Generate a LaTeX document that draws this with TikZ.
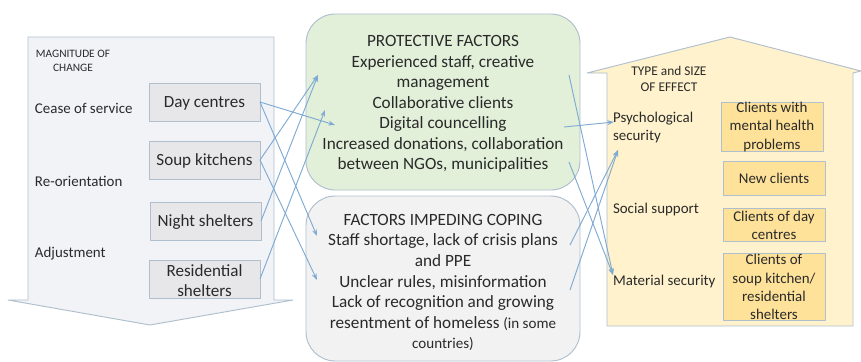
\documentclass[tikz,border=0pt]{standalone}
\usepackage{fontspec}
\setmainfont{Carlito}
\usetikzlibrary{arrows.meta}
\definecolor{edgeblue}{HTML}{AFBFCE}
\definecolor{linkblue}{HTML}{7FAAD3}
\definecolor{ink}{HTML}{2A2A2A}
\definecolor{arrowfill}{HTML}{F1F3F7}
\definecolor{housefill}{HTML}{FFF2CC}
\definecolor{boxfill}{HTML}{FFE299}
\definecolor{protfill}{HTML}{E2EFD9}
\definecolor{impfill}{HTML}{F2F2F2}
\definecolor{servfill}{HTML}{E7E7EA}
\newcommand{\lowerstrut}[1]{\rule{0pt}{#1}}
\tikzset{
  x=0.75pt,y=-0.75pt,
  every node/.style={text=ink,font=\fontsize{12.9}{15.4}\selectfont,inner sep=0pt,outer sep=0pt},
  outline/.style={draw=edgeblue,line width=0.7pt,line join=round},
  service/.style={outline,fill=servfill,minimum width=83.25pt,minimum height=28.5pt,align=center,font=\fontsize{12.8}{15.4}\selectfont},
  factor/.style={outline,rounded corners=22pt,minimum width=205.5pt,align=center},
  effectbox/.style={outline,fill=boxfill,minimum width=76.5pt,align=center,font=\fontsize{11.2}{13.7}\selectfont},
  effecttext/.style={align=center,font=\fontsize{11.2}{13.7}\selectfont},
  label/.style={anchor=west,align=left,font=\fontsize{11.2}{13.8}\selectfont},
  link/.style={draw=linkblue,line width=0.7pt,-{Stealth[length=5pt,width=3.6pt]}},
}
\begin{document}
\begin{tikzpicture}
\useasboundingbox (0,0) rectangle (861,361);
\fill[white] (0,0) rectangle (861,361);
% big arrow
\draw[outline,fill=arrowfill] (28,37) -- (274,37) -- (274,300) -- (293,300) -- (150,325) -- (8,300) -- (28,300) -- cycle;
% house
\draw[outline,fill=housefill] (730,37) -- (861,71) -- (853,73) -- (853,326) -- (607,326) -- (607,73) -- (587,73) -- cycle;
% factor boxes
\node[factor,fill=protfill,minimum height=132pt] (prot) at (443,102) {};
\node[factor,fill=impfill,minimum height=123.75pt] (imp) at (443,278.5) {};
\node (prottext) at (443,104) [align=center] {PROTECTIVE FACTORS\\Experienced staff, creative\\management\\Collaborative clients\\Digital councelling\\Increased donations, collaboration\\between NGOs, municipalities};
\node (imptext) at (443,282.5) [align=center] {FACTORS IMPEDING COPING\\Staff shortage, lack of crisis plans\\and PPE\\Unclear rules, misinformation\\Lack of recognition and growing\\resentment of homeless {\fontsize{11.3}{15.4}\selectfont (in some}\\{\fontsize{11.3}{15.4}\selectfont countries)}};
% left text
\node (mag) at (73,61) [align=center,font=\fontsize{8.5}{10.2}\selectfont] {MAGNITUDE OF\\CHANGE};
\node[label] (cease) at (35,108) {Cease of service};
\node[label] (reor) at (35,181) {Re-orientation};
\node[label] (adj) at (35,253.5) {Adjustment};
% services
\node[service] (day) at (204.5,102) {\lowerstrut{11pt}Day centres};
\node[service] (soup) at (204.5,160) {\lowerstrut{11pt}Soup kitchens};
\node[service] (night) at (205.5,221) {\lowerstrut{11pt}Night shelters};
\node[service] (res) at (204.5,279) {\lowerstrut{11pt}Residential\\shelters};
% right text
\node (typ) at (669,79) [align=center,font=\fontsize{10}{12.2}\selectfont] {TYPE and SIZE\\OF EFFECT};
\node[label] (psy) at (613,127.5) {Psychological\\security};
\node[label] (soc) at (613,210) {Social support};
\node[label] (mat) at (613,282) {Material security};
% effect boxes
\node[effectbox,minimum height=36.75pt] (e1) at (772,126.5) {};
\node[effecttext] (e1text) at (772,127) {Clients with\\mental health\\problems};
\node[effectbox,minimum height=25.5pt] (e2) at (774,178) {New clients};
\node[effectbox,minimum height=24.75pt] (e3) at (774,224.5) {};
\node[effecttext] (e3text) at (774,225) {Clients of day\\centres};
\node[effectbox,minimum height=50.25pt] (e4) at (774,286.5) {};
\node[effecttext] (e4text) at (774,287) {Clients of\\soup kitchen/\\residential\\shelters};
% free ends
\coordinate (pa) at (318,75);
\coordinate (pb) at (325,110);
\coordinate (pc) at (335,125);
\coordinate (ia) at (317,236);
\coordinate (ib) at (317,280);
\coordinate (pr1) at (569,75);
\coordinate (pr2) at (564,127);
\coordinate (pr3) at (569,162);
\coordinate (ir1) at (570,245);
\coordinate (ir2) at (570,290);
\coordinate (psyin) at (614,122);
\coordinate (psyb) at (618,150);
\coordinate (matin) at (613,275);
% connectors
\draw[link] (day.east) -- (pc);
\draw[link] (day.east) -- (ia);
\draw[link] (soup.east) -- (pa);
\draw[link] (soup.east) -- (ib);
\draw[link] (night.east) -- (pa);
\draw[link] (res.east) -- (pb);
\draw[link] (pr1) -- (matin);
\draw[link] (pr3) -- (matin);
\draw[link] (pr2) -- (psyin);
\draw[link] (ir1) -- (psyb);
\draw[link] (ir2) -- (psyb);
\end{tikzpicture}
\end{document}
